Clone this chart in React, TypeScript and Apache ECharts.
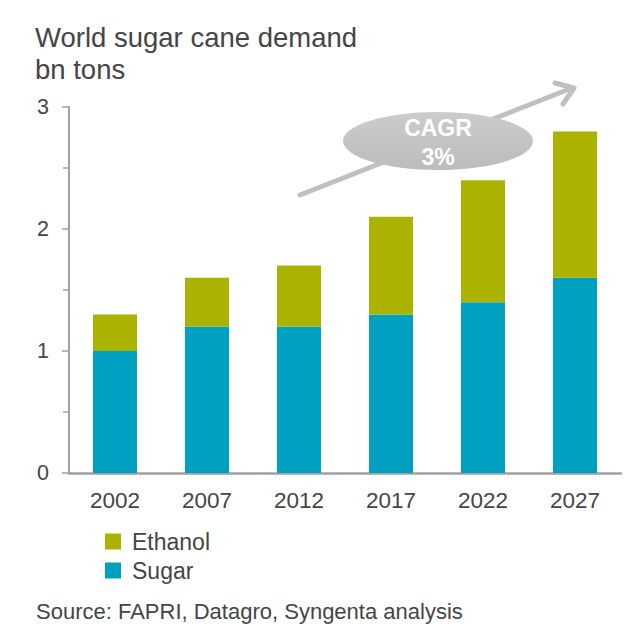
import React, { useEffect, useRef } from "react";
import * as echarts from "echarts";

const categories = ["2002", "2007", "2012", "2017", "2022", "2027"];
const sugar = [1.0, 1.2, 1.2, 1.3, 1.4, 1.6];
const ethanol = [0.3, 0.4, 0.5, 0.8, 1.0, 1.2];

const FONT = "Liberation Sans, Arial, sans-serif";
const TXT = "#454545";
const AXIS = "#a0a0a0";

export default function App() {
  const ref = useRef<HTMLDivElement>(null);
  useEffect(() => {
    const chart = echarts.init(ref.current!, null, { renderer: "svg" });
    chart.setOption({
      animation: false,
      textStyle: { fontFamily: FONT },
      grid: { left: 69, right: 18, top: 107, bottom: 167 },
      legend: {
        orient: "vertical",
        left: 105,
        top: 530,
        padding: 0,
        itemWidth: 16,
        itemHeight: 16,
        itemGap: 6,
        icon: "rect",
        data: ["Ethanol", "Sugar"],
        textStyle: { fontSize: 23, color: TXT, fontFamily: FONT, padding: [0, 0, 0, 6] },
      },
      xAxis: {
        type: "category",
        data: categories,
        axisLine: { lineStyle: { color: AXIS, width: 2.5 } },
        axisTick: { show: false },
        axisLabel: { fontSize: 22.5, color: TXT, margin: 16, fontFamily: FONT },
      },
      yAxis: {
        type: "value",
        min: 0,
        max: 3,
        interval: 1,
        axisLine: { show: true, lineStyle: { color: AXIS, width: 2 } },
        axisTick: { show: true, length: 7, lineStyle: { color: AXIS, width: 1.5 } },
        minorTick: { show: true, splitNumber: 2, length: 6, lineStyle: { color: AXIS, width: 1.5 } },
        splitLine: { show: false },
        axisLabel: { fontSize: 21.5, color: TXT, margin: 20, fontFamily: FONT },
      },
      series: [
        {
          name: "Sugar",
          type: "bar",
          stack: "total",
          data: sugar,
          barWidth: 44,
          itemStyle: { color: "#00a0c0" },
        },
        {
          name: "Ethanol",
          type: "bar",
          stack: "total",
          data: ethanol,
          barWidth: 44,
          itemStyle: { color: "#aab400" },
        },
      ],
      graphic: [
        {
          type: "text",
          x: 35,
          y: 37,
          style: { text: "World sugar cane demand", fontSize: 27.5, fill: TXT, fontFamily: FONT, verticalAlign: "middle" },
        },
        {
          type: "text",
          x: 35,
          y: 69.5,
          style: { text: "bn tons", fontSize: 27.5, fill: TXT, fontFamily: FONT, verticalAlign: "middle" },
        },
        {
          type: "text",
          x: 36,
          y: 611,
          style: { text: "Source: FAPRI, Datagro, Syngenta analysis", fontSize: 22, fill: TXT, fontFamily: FONT, verticalAlign: "middle" },
        },
        {
          type: "line",
          shape: { x1: 300, y1: 195, x2: 572, y2: 88 },
          style: { stroke: "#c0c0c0", lineWidth: 5, lineCap: "round" },
        },
        {
          type: "polyline",
          shape: { points: [[555, 83], [574, 88], [563, 104]] },
          style: { stroke: "#c0c0c0", lineWidth: 5, fill: null, lineCap: "round", lineJoin: "round" },
        },
        {
          type: "ellipse",
          shape: { cx: 438, cy: 141, rx: 95, ry: 29 },
          style: {
            fill: new echarts.graphic.LinearGradient(0, 0, 0, 1, [
              { offset: 0, color: "#cccccc" },
              { offset: 1, color: "#bcbcbc" },
            ]),
          },
        },
        {
          type: "text",
          x: 438,
          y: 128,
          style: { text: "CAGR", fontSize: 23, fontWeight: "bold", fill: "#ffffff", align: "center", verticalAlign: "middle", fontFamily: FONT },
        },
        {
          type: "text",
          x: 438,
          y: 157,
          style: { text: "3%", fontSize: 23, fontWeight: "bold", fill: "#ffffff", align: "center", verticalAlign: "middle", fontFamily: FONT },
        },
      ],
    });
    return () => chart.dispose();
  }, []);
  return <div ref={ref} style={{ position: "absolute", left: 0, top: 0, width: 639, height: 640 }} />;
}
